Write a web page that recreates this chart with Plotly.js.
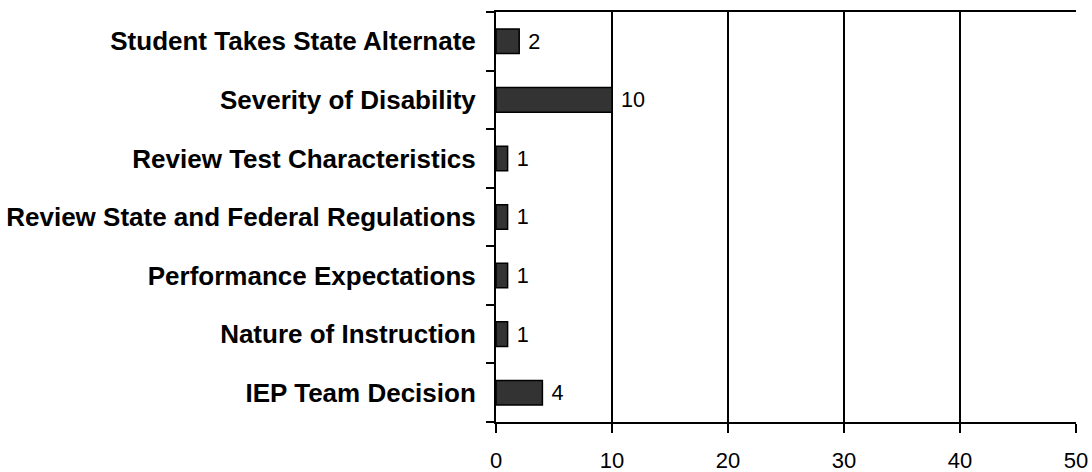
<!DOCTYPE html>
<html>
<head>
<meta charset="utf-8">
<script src="https://cdn.plot.ly/plotly-3.0.1.min.js"></script>
<style>html,body{margin:0;padding:0;background:#fff;}#chart{width:1092px;height:472px;}</style>
</head>
<body>
<div id="chart"></div>
<script>
const categories = [
  "IEP Team Decision",
  "Nature of Instruction",
  "Performance Expectations",
  "Review State and Federal Regulations",
  "Review Test Characteristics",
  "Severity of Disability",
  "Student Takes State Alternate"
];
const values = [4, 1, 1, 1, 1, 10, 2];
const xTicks = [0, 10, 20, 30, 40, 50];

const trace = {
  type: "bar",
  orientation: "h",
  y: categories,
  x: values,
  text: values.map(v => "\u00a0" + v),
  textposition: "outside",
  cliponaxis: false,
  textfont: {family: "Liberation Sans, Arial, sans-serif", size: 22, color: "#000"},
  marker: {color: "#333333", line: {color: "#000", width: 1.5}},
  width: 0.42,
  hoverinfo: "none"
};

const layout = {
  width: 1092, height: 472,
  margin: {l: 496, r: 16, t: 12, b: 50},
  paper_bgcolor: "#fff", plot_bgcolor: "#fff",
  showlegend: false,
  font: {family: "Liberation Sans, Arial, sans-serif", color: "#000"},
  xaxis: {
    range: [0, 50],
    tickvals: xTicks,
    ticktext: xTicks.map(String),
    showgrid: true, gridcolor: "#000", gridwidth: 2,
    zeroline: false,
    showline: true, linecolor: "#000", linewidth: 2, mirror: true,
    ticks: "outside", ticklen: 9, tickwidth: 2, tickcolor: "#000",
    tickfont: {size: 22, color: "#000"},
    ticklabelstandoff: 9,
    fixedrange: true
  },
  yaxis: {
    type: "category",
    categoryorder: "array",
    categoryarray: categories,
    showline: true, linecolor: "#000", linewidth: 2,
    showgrid: false, zeroline: false,
    ticks: "outside", tickson: "boundaries", ticklen: 8, tickwidth: 2, tickcolor: "#000",
    tickfont: {size: 26, color: "#000", weight: "bold"},
    ticklabelstandoff: 13,
    fixedrange: true
  }
};

Plotly.newPlot("chart", [trace], layout, {displayModeBar: false, staticPlot: true});
</script>
</body>
</html>
